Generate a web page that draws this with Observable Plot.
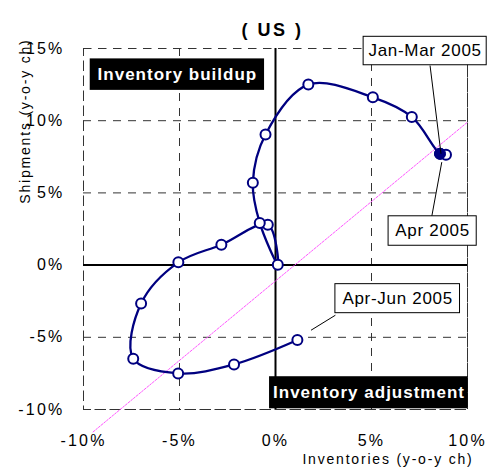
<!DOCTYPE html>
<html>
<head>
<meta charset="utf-8">
<script src="https://cdn.jsdelivr.net/npm/d3@7"></script>
<script src="https://cdn.jsdelivr.net/npm/@observablehq/plot@0.6"></script>
<style>
  html, body { margin: 0; padding: 0; background: #fff; }
  svg { display: block; }
</style>
</head>
<body>
<div id="chart"></div>
<script>
// Data (percent, y-o-y change)
const inventories = [1.14, -2.16, -5.07, -7.41, -7.0, -5.06, -2.82, -0.40, 0.12, -0.82, -1.18, -0.52, 1.71, 5.07, 7.1, 8.57, 8.88];
const shipments   = [-5.19, -6.88, -7.5, -6.48, -2.66, 0.19, 1.41, 2.80, 0.02, 2.92, 5.71, 9.05, 12.5, 11.62, 10.26, 7.71, 7.64];
const highlightIndex = [15]; // Jan-Mar 2005 (filled marker)
const xTicks = [-10, -5, 0, 5, 10];
const yTicks = [-10, -5, 0, 5, 10, 15];
const title = "( US )";
const xLabel = "Inventories (y-o-y ch)";
const yLabel = "Shipments (y-o-y ch)";
// reference line (in data units)
const refLine = [{x: -9.5, y: -11.55}, {x: 10, y: 9.9}];

// annotation boxes (data units)
const regionBoxes = [
  {label: "Inventory buildup", x1: -9.65, x2: -0.57, y1: 12.1, y2: 14.28, cx: -5.11, cy: 13.19},
  {label: "Inventory adjustment", x1: -0.31, x2: 10.04, y1: -9.95, y2: -7.73, cx: 4.87, cy: -8.84}
];
const callouts = [
  {label: "Jan-Mar 2005", x1: 4.59, x2: 11.0, y1: 13.84, y2: 15.81, cx: 7.79, cy: 14.83, lx1: 8.05, ly1: 13.82, lx2: 8.62, ly2: 7.71},
  {label: "Apr 2005", x1: 5.89, x2: 10.48, y1: 1.34, y2: 3.38, cx: 8.18, cy: 2.36, lx1: 8.14, ly1: 3.38, lx2: 8.66, ly2: 7.13},
  {label: "Apr-Jun 2005", x1: 3.12, x2: 9.61, y1: -3.33, y2: -1.32, cx: 6.36, cy: -2.33, lx1: 1.85, ly1: -4.51, lx2: 3.12, ly2: -3.47}
];

const pts = inventories.map((x, i) => ({x, y: shipments[i], i}));
const hi = pts.filter(d => highlightIndex.includes(d.i));
const navy = "#000080";
const font = "Liberation Sans, Arial, sans-serif";

const chart = Plot.plot({
  width: 487,
  height: 473,
  marginLeft: 83,
  marginRight: 20,
  marginTop: 48,
  marginBottom: 64,
  style: {fontFamily: font, background: "#fff", overflow: "visible"},
  x: {domain: [-10, 10]},
  y: {domain: [-10, 15]},
  marks: [
    Plot.gridX(xTicks, {stroke: "#333", strokeOpacity: 1, strokeWidth: 1, strokeDasharray: "8,7"}),
    Plot.gridY(yTicks, {stroke: "#333", strokeOpacity: 1, strokeWidth: 1, strokeDasharray: "8,7"}),
    Plot.frame({stroke: "#333", strokeWidth: 1, strokeDasharray: "8,7"}),
    Plot.ruleX([0], {stroke: "#000", strokeWidth: 2}),
    Plot.ruleY([0], {stroke: "#000", strokeWidth: 2}),
    Plot.line(refLine, {x: "x", y: "y", stroke: "#ff55ff", strokeWidth: 1, strokeDasharray: "2,1.5"}),
    Plot.axisY(yTicks, {tickSize: 0, tickPadding: 19, tickFormat: d => d + "%", fontSize: 16, fill: "#000", label: null}),
    Plot.axisX(xTicks, {tickSize: 0, tickPadding: 25, tickFormat: d => d + "%", fontSize: 16, fill: "#000", label: null}),
    Plot.line(pts, {x: "x", y: "y", stroke: navy, strokeWidth: 2.3, curve: "catmull-rom"}),
    Plot.dot(pts, {x: "x", y: "y", r: 5, fill: "#fff", stroke: navy, strokeWidth: 2}),
    Plot.dot(hi, {x: "x", y: "y", r: 5.5, fill: navy, stroke: navy, strokeWidth: 1}),
    Plot.rect(regionBoxes, {x1: "x1", x2: "x2", y1: "y1", y2: "y2", fill: "#000"}),
    Plot.text(regionBoxes, {x: "cx", y: "cy", text: "label", fill: "#fff", fontSize: 17, fontWeight: "bold"}),
    Plot.link(callouts, {x1: "lx1", y1: "ly1", x2: "lx2", y2: "ly2", stroke: "#000", strokeWidth: 1}),
    Plot.rect(callouts, {x1: "x1", x2: "x2", y1: "y1", y2: "y2", fill: "#fff", stroke: "#000", strokeWidth: 1}),
    Plot.text(callouts, {x: "cx", y: "cy", text: "label", fill: "#000", fontSize: 17}),
    Plot.text([title], {frameAnchor: "top", dx: -3, dy: -25, fontSize: 18, fontWeight: "bold", fill: "#000"}),
    Plot.text([xLabel], {frameAnchor: "bottom-right", dx: 6, dy: 54, textAnchor: "end", fontSize: 14, fill: "#000"}),
    Plot.text([yLabel], {frameAnchor: "top-left", dx: -63, dy: -10, rotate: -90, textAnchor: "end", fontSize: 14, fill: "#000"})
  ]
});

// letter spacing to mimic the wider original typeface
const spacing = new Map();
xTicks.concat(yTicks).forEach(t => spacing.set(t + "%", "2.2px"));
regionBoxes.forEach(b => spacing.set(b.label, "1px"));
callouts.forEach(c => spacing.set(c.label, "0.7px"));
spacing.set(title, "2.5px");
spacing.set(xLabel, "1.8px");
spacing.set(yLabel, "1.8px");
d3.select(chart).selectAll("text").each(function () {
  const s = spacing.get(this.textContent);
  if (s) this.setAttribute("letter-spacing", s);
});
document.getElementById("chart").appendChild(chart);
</script>
</body>
</html>
